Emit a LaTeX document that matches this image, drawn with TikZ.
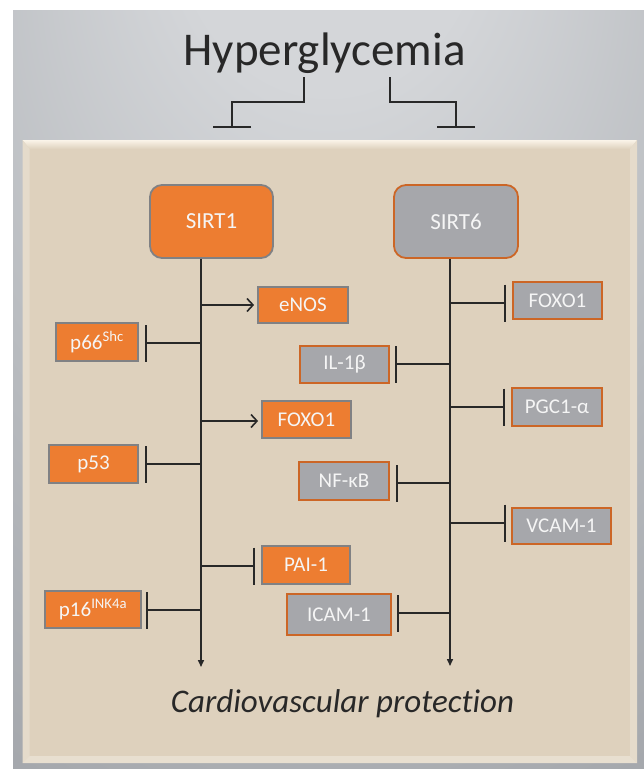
\documentclass[tikz,border=0pt]{standalone}
\usepackage{fontspec}
\setmainfont{Carlito}[Ligatures=NoCommon]
\usetikzlibrary{arrows.meta}
\definecolor{org}{RGB}{237,125,49}
\definecolor{gry}{RGB}{166,167,171}
\definecolor{orgline}{RGB}{204,102,38}
\definecolor{gryline}{RGB}{128,129,132}
\definecolor{beige}{RGB}{222,209,189}
\definecolor{beigehi}{RGB}{250,244,233}
\definecolor{beigeside}{RGB}{229,219,203}
\definecolor{beigebot}{RGB}{232,223,208}
\definecolor{ink}{RGB}{40,40,40}
\definecolor{boxtxt}{RGB}{245,245,245}
\definecolor{bgin}{RGB}{212,214,217}
\definecolor{bgmid}{RGB}{184,187,191}
\definecolor{bgout}{RGB}{162,165,170}
\definecolor{bgfar}{RGB}{155,158,163}
\pgfdeclareradialshading{bgshade}{\pgfpoint{0bp}{36bp}}{color(0bp)=(bgin); color(12bp)=(bgin); color(33bp)=(bgmid); color(52bp)=(bgout); color(100bp)=(bgfar)}
\begin{document}
\begin{tikzpicture}[x=1pt,y=-1pt,
  boxfont/.style={font=\fontsize{21}{21}\selectfont},
  obox/.style={draw=gryline,line width=1.8pt,fill=org,text=boxtxt,boxfont,inner sep=0pt},
  gbox/.style={draw=orgline,line width=1.8pt,fill=gry,text=boxtxt,boxfont,inner sep=0pt},
  sirt/.style={rounded corners=12pt,font=\fontsize{23}{23}\selectfont},
  conn/.style={draw=ink,line width=1.5pt},
  act/.style={conn,-{Straight Barb[length=6pt,width=13pt,line width=1.6pt]},shorten >=3pt},
  inh/.style={conn,-{Bar[width=37pt,line width=1.8pt]},shorten >=6pt},
  trunk/.style={conn,-{Triangle[length=7pt,width=6pt]}}]
\useasboundingbox (0,0) rectangle (644,769);
% background
\fill[white] (0,0) rectangle (644,769);
\shade[shading=bgshade] (13,10) rectangle (644,769);
% panel
\fill[beige] (22.6,140) rectangle (637,763);
\shade[top color=beigehi,bottom color=beige] (22.6,140) -- (637,140) -- (630,149) -- (29.6,149) -- cycle;
\fill[beigeside] (22.6,140) -- (29.6,149) -- (29.6,756) -- (22.6,763) -- cycle;
\fill[beigeside] (637,140) -- (630,149) -- (630,756) -- (637,763) -- cycle;
\fill[beigebot] (22.6,763) -- (29.6,756) -- (630,756) -- (637,763) -- cycle;
% title
\node[font=\fontsize{47}{47}\selectfont,text=ink,anchor=base] (title) at (324.5,65) {Hyperglycemia};
\coordinate (hA) at (304,77);
\coordinate (tA) at (232,128);
\coordinate (hB) at (390,77);
\coordinate (tB) at (456,128);
\draw[conn,-{Bar[width=38pt,line width=1.8pt]}] (hA) -- ++(0,25) -| (tA);
\draw[conn,-{Bar[width=38pt,line width=1.8pt]}] (hB) -- ++(0,25) -| (tB);
% SIRT boxes
\node[obox,sirt,minimum width=123pt,minimum height=73pt] (sirt1) at (211.5,221.5) {SIRT1};
\node[gbox,sirt,minimum width=124pt,minimum height=73pt] (sirt6) at (456,221.5) {SIRT6};
% left targets
\node[obox,minimum width=90pt,minimum height=36pt] (enos) at (303,305) {eNOS};
\node[obox,minimum width=82pt,minimum height=38pt] (p66) at (97,342) {p66\textsuperscript{Shc}};
\node[obox,minimum width=89pt,minimum height=37pt] (foxoL) at (306.5,419.5) {FOXO1};
\node[obox,minimum width=89pt,minimum height=38pt] (p53) at (93.5,464) {p53};
\node[obox,minimum width=88pt,minimum height=38pt] (pai) at (306,565) {PAI-1};
\node[obox,minimum width=96pt,minimum height=37pt] (p16) at (93,609.5) {p16\textsuperscript{INK4a}};
% right targets
\node[gbox,minimum width=89pt,minimum height=37pt] (foxoR) at (557.5,300.5) {FOXO1};
\node[gbox,minimum width=89pt,minimum height=37pt] (il1b) at (344.5,364.5) {IL-1β};
\node[gbox,minimum width=90pt,minimum height=38pt] (pgc) at (557,407) {PGC1-α};
\node[gbox,minimum width=90pt,minimum height=38pt] (nfkb) at (344,481) {NF-κB};
\node[gbox,minimum width=99pt,minimum height=36pt] (vcam) at (561.5,526) {VCAM-1};
\node[gbox,minimum width=104pt,minimum height=41pt] (icam) at (339,614.5) {ICAM-1};
% bottom text
\node[font=\itshape\fontsize{33}{33}\selectfont,text=ink,anchor=base] (cvp) at (342.5,712) {Cardiovascular protection};
% trunks
\coordinate (endL) at (201,667);
\coordinate (endR) at (450,666);
\draw[trunk] (sirt1.south -| endL) -- (endL);
\draw[trunk] (sirt6.south -| endR) -- (endR);
% left junctions
\coordinate (jenos) at (201,305);
\coordinate (jp66) at (201,343);
\coordinate (jfoxoL) at (201,421);
\coordinate (jp53) at (201,464);
\coordinate (jpai) at (201,566);
\coordinate (jp16) at (201,610);
\draw[act] (jenos) -- (jenos -| enos.west);
\draw[inh] (jp66) -- (jp66 -| p66.east);
\draw[act] (jfoxoL) -- (jfoxoL -| foxoL.west);
\draw[inh] (jp53) -- (jp53 -| p53.east);
\draw[inh] (jpai) -- (jpai -| pai.west);
\draw[inh,shorten >=4pt] (jp16) -- (jp16 -| p16.east);
% right junctions
\coordinate (jfoxoR) at (450,303);
\coordinate (jil1b) at (450,364);
\coordinate (jpgc) at (450,407);
\coordinate (jnfkb) at (450,483);
\coordinate (jvcam) at (450,523);
\coordinate (jicam) at (450,613);
\draw[inh] (jfoxoR) -- (jfoxoR -| foxoR.west);
\draw[inh,shorten >=5pt] (jil1b) -- (jil1b -| il1b.east);
\draw[inh] (jpgc) -- (jpgc -| pgc.west);
\draw[inh] (jnfkb) -- (jnfkb -| nfkb.east);
\draw[inh,shorten >=5pt] (jvcam) -- (jvcam -| vcam.west);
\draw[inh,shorten >=5pt] (jicam) -- (jicam -| icam.east);
\end{tikzpicture}
\end{document}
